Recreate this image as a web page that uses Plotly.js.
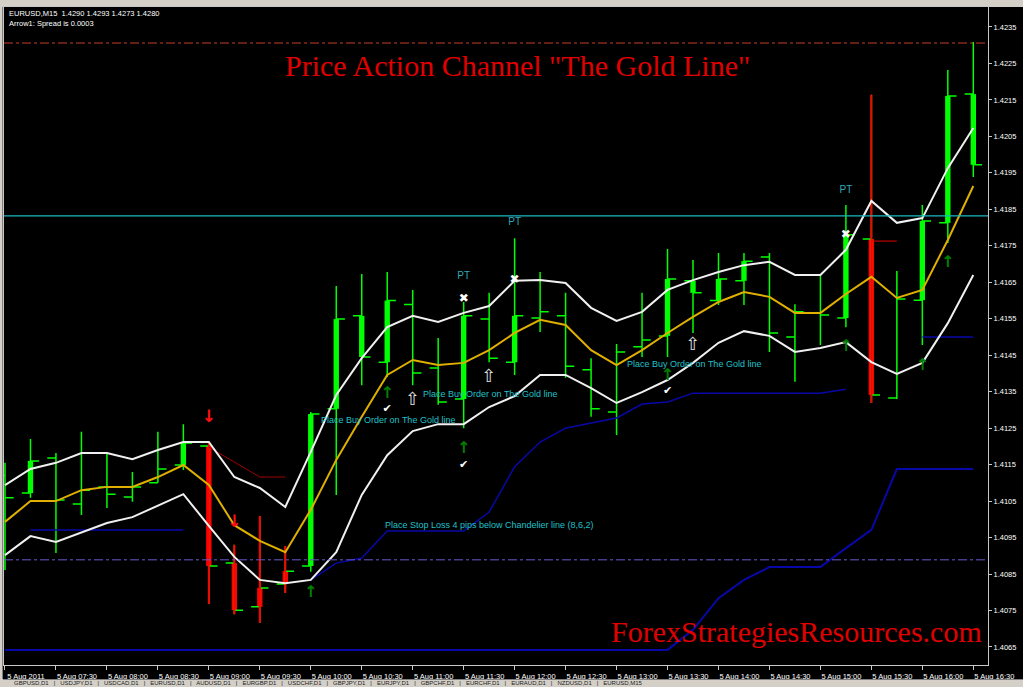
<!DOCTYPE html>
<html><head><meta charset="utf-8">
<script src="https://cdn.plot.ly/plotly-3.0.1.min.js"></script>
<style>html,body{margin:0;padding:0;background:#000;overflow:hidden}#chart{width:1023px;height:687px}</style>
</head><body><div id="chart"></div>
<script>
// ---- bars (EURUSD M15, 5 Aug 2011) ----
const times = ["2011-08-05 07:00","2011-08-05 07:15","2011-08-05 07:30","2011-08-05 07:45","2011-08-05 08:00","2011-08-05 08:15","2011-08-05 08:30","2011-08-05 08:45","2011-08-05 09:00","2011-08-05 09:15","2011-08-05 09:30","2011-08-05 09:45","2011-08-05 10:00","2011-08-05 10:15","2011-08-05 10:30","2011-08-05 10:45","2011-08-05 11:00","2011-08-05 11:15","2011-08-05 11:30","2011-08-05 11:45","2011-08-05 12:00","2011-08-05 12:15","2011-08-05 12:30","2011-08-05 12:45","2011-08-05 13:00","2011-08-05 13:15","2011-08-05 13:30","2011-08-05 13:45","2011-08-05 14:00","2011-08-05 14:15","2011-08-05 14:30","2011-08-05 14:45","2011-08-05 15:00","2011-08-05 15:15","2011-08-05 15:30","2011-08-05 15:45","2011-08-05 16:00","2011-08-05 16:15","2011-08-05 16:30"];
const open  = [1.41120,1.41072,1.41168,1.41042,1.41089,1.41061,1.41100,1.41149,1.41201,1.40880,1.40760,1.40823,1.40872,1.41303,1.41558,1.41431,1.41589,1.41415,1.41330,1.41549,1.41431,1.41552,1.41558,1.41410,1.41294,1.41473,1.41503,1.41654,1.41600,1.41654,1.41719,1.41500,1.41566,1.41552,1.41769,1.41333,1.41601,1.41813,1.42166];
const high  = [1.41155,1.41220,1.41182,1.41240,1.41179,1.41130,1.41240,1.41261,1.41209,1.40930,1.41009,1.40927,1.41294,1.41640,1.41673,1.41678,1.41629,1.41497,1.41596,1.41621,1.41771,1.41678,1.41621,1.41442,1.41481,1.41621,1.41741,1.41711,1.41730,1.41730,1.41730,1.41590,1.41670,1.41862,1.42164,1.41681,1.41862,1.42232,1.42309];
const low   = [1.40861,1.41059,1.40908,1.41012,1.41031,1.41048,1.41100,1.41135,1.40768,1.40740,1.40716,1.40798,1.40856,1.41067,1.41368,1.41390,1.41368,1.41314,1.41250,1.41431,1.41396,1.41514,1.41388,1.41281,1.41231,1.41445,1.41445,1.41511,1.41588,1.41588,1.41459,1.41377,1.41478,1.41527,1.41319,1.41330,1.41478,1.41758,1.41939];
const close = [1.41059,1.41160,1.41053,1.41080,1.41069,1.41089,1.41138,1.41209,1.40872,1.40751,1.40812,1.40858,1.41289,1.41549,1.41445,1.41600,1.41401,1.41322,1.41558,1.41442,1.41558,1.41569,1.41420,1.41303,1.41459,1.41492,1.41659,1.41621,1.41659,1.41708,1.41511,1.41569,1.41560,1.41780,1.41341,1.41604,1.41818,1.42161,1.41972];
const barColor = ["g","g","g","g","g","g","g","g","r","r","r","r","g","g","g","g","g","g","g","g","g","g","g","g","g","g","g","g","g","g","g","g","g","g","r","g","g","g","g"];
const hasBody  = [0,1,0,0,0,0,0,1,1,1,1,1,1,1,1,1,0,0,1,0,1,0,0,0,0,0,1,1,1,1,0,0,0,1,1,0,1,1,1];

// ---- price action channel ----
const upperBand = [1.41094,1.41138,1.41155,1.41182,1.41182,1.41165,1.41190,1.41212,1.41212,1.41116,1.41086,1.41034,1.41185,1.41341,1.41442,1.41527,1.41558,1.41541,1.41566,1.41585,1.41654,1.41656,1.41648,1.41580,1.41544,1.41569,1.41629,1.41656,1.41678,1.41697,1.41706,1.41670,1.41670,1.41739,1.41873,1.41813,1.41826,1.41963,1.42073];
const goldLine  = [1.40993,1.41050,1.41050,1.41080,1.41089,1.41089,1.41116,1.41149,1.41094,1.40984,1.40941,1.40910,1.41026,1.41163,1.41281,1.41396,1.41437,1.41423,1.41429,1.41464,1.41511,1.41547,1.41533,1.41464,1.41423,1.41464,1.41511,1.41555,1.41596,1.41623,1.41610,1.41566,1.41566,1.41618,1.41665,1.41607,1.41629,1.41766,1.41914];
const lowerBand = [1.40902,1.40954,1.40938,1.40965,1.40990,1.41006,1.41037,1.41069,1.40982,1.40897,1.40834,1.40825,1.40834,1.40910,1.41067,1.41176,1.41242,1.41261,1.41261,1.41308,1.41338,1.41396,1.41396,1.41360,1.41319,1.41349,1.41382,1.41429,1.41484,1.41516,1.41503,1.41459,1.41470,1.41486,1.41431,1.41399,1.41429,1.41538,1.41670];

// ---- chandelier / stop lines ----
const chandA_t = ["2011-08-05 07:15","2011-08-05 08:45"];
const chandA_v = [1.40971,1.40971];
const chandB_t = ["2011-08-05 10:00","2011-08-05 10:15","2011-08-05 10:30","2011-08-05 10:45","2011-08-05 11:00","2011-08-05 11:15","2011-08-05 11:30","2011-08-05 11:45","2011-08-05 12:00","2011-08-05 12:15","2011-08-05 12:30","2011-08-05 12:45","2011-08-05 13:00","2011-08-05 13:15","2011-08-05 13:30","2011-08-05 13:45","2011-08-05 14:00","2011-08-05 14:15","2011-08-05 14:30","2011-08-05 14:45","2011-08-05 15:00","2011-08-05 15:15"];
const chandB_v = [1.40834,1.40880,1.40894,1.40968,1.40968,1.40968,1.40968,1.41020,1.41144,1.41212,1.41250,1.41264,1.41278,1.41316,1.41322,1.41346,1.41346,1.41346,1.41346,1.41346,1.41346,1.41357];
const chandC_t = ["2011-08-05 16:00","2011-08-05 16:30"];
const chandC_v = [1.41500,1.41500];
const chandD_t = ["2011-08-05 07:00","2011-08-05 13:30","2011-08-05 13:45","2011-08-05 14:00","2011-08-05 14:15","2011-08-05 14:30","2011-08-05 14:45","2011-08-05 15:00","2011-08-05 15:15","2011-08-05 15:30","2011-08-05 15:45","2011-08-05 16:00","2011-08-05 16:15","2011-08-05 16:30"];
const chandD_v = [1.40642,1.40642,1.40697,1.40784,1.40834,1.40869,1.40869,1.40869,1.40921,1.40971,1.41138,1.41138,1.41138,1.41138];
const sellStop_t = ["2011-08-05 09:00","2011-08-05 09:15","2011-08-05 09:30","2011-08-05 09:45"];
const sellStop_v = [1.41198,1.41157,1.41116,1.41116];
const redStop_t = ["2011-08-05 15:30","2011-08-05 15:45"];
const redStop_v = [1.41763,1.41763];

// ---- horizontal levels ----
const cyanLevel = 1.41832;
const redDashLevel = 1.42306;
const purpleDashLevel = 1.40889;

// ---- signals ----
const upArrow_t = ["2011-08-05 10:00","2011-08-05 10:45","2011-08-05 11:30","2011-08-05 13:30","2011-08-05 15:15","2011-08-05 16:00","2011-08-05 16:15"];
const upArrow_v = [1.40798,1.41345,1.41192,1.41392,1.41473,1.41420,1.41703];
const downArrow_t = ["2011-08-05 09:00","2011-08-05 09:15"];
const downArrow_v = [1.41278,1.40990];
const check_t = ["2011-08-05 10:45","2011-08-05 11:30","2011-08-05 13:30"];
const check_v = [1.41302,1.41148,1.41352];
const hollow_t = ["2011-08-05 11:00","2011-08-05 11:45","2011-08-05 13:45"];
const hollow_v = [1.41327,1.41390,1.41478];
const cross_t = ["2011-08-05 11:30","2011-08-05 12:00","2011-08-05 15:15"];
const cross_v = [1.41604,1.41656,1.41780];
const pt_t = ["2011-08-05 11:30","2011-08-05 12:00","2011-08-05 15:15"];
const pt_v = [1.41667,1.41815,1.41903];

// ---- axis labels ----
const xTickVals = ["2011-08-05 07:00","2011-08-05 07:30","2011-08-05 08:00","2011-08-05 08:30","2011-08-05 09:00","2011-08-05 09:30","2011-08-05 10:00","2011-08-05 10:30","2011-08-05 11:00","2011-08-05 11:30","2011-08-05 12:00","2011-08-05 12:30","2011-08-05 13:00","2011-08-05 13:30","2011-08-05 14:00","2011-08-05 14:30","2011-08-05 15:00","2011-08-05 15:30","2011-08-05 16:00","2011-08-05 16:30"];
const xTickText = ["5 Aug 2011","5 Aug 07:30","5 Aug 08:00","5 Aug 08:30","5 Aug 09:00","5 Aug 09:30","5 Aug 10:00","5 Aug 10:30","5 Aug 11:00","5 Aug 11:30","5 Aug 12:00","5 Aug 12:30","5 Aug 13:00","5 Aug 13:30","5 Aug 14:00","5 Aug 14:30","5 Aug 15:00","5 Aug 15:30","5 Aug 16:00","5 Aug 16:30"];
const tabNames = ["GBPUSD,D1","USDJPY,D1","USDCAD,D1","EURUSD,D1","AUDUSD,D1","EURGBP,D1","USDCHF,D1","GBPJPY,D1","EURJPY,D1","GBPCHF,D1","EURCHF,D1","EURAUD,D1","NZDUSD,D1","EURUSD,M15"];

const GREEN = '#00ff00', RED = '#ff0000';
const SANS = 'Liberation Sans, Arial, sans-serif';
const SERIF = 'Liberation Serif, Times New Roman, serif';
const SYM = 'DejaVu Sans, sans-serif';

const traces = [];
// all bars, green with open/close ticks
traces.push({type:'ohlc', x: times, open, high, low, close, tickwidth: 0.34,
  increasing:{line:{color:GREEN, width:1.5}}, decreasing:{line:{color:GREEN, width:1.5}}, hoverinfo:'skip'});
// red high-low lines for red bars
const rIdx = barColor.map((c,i)=>c==='r'?i:-1).filter(i=>i>=0);
traces.push({type:'scatter', mode:'lines', x: rIdx.flatMap(i=>[times[i], times[i], null]),
  y: rIdx.flatMap(i=>[high[i], low[i], null]), line:{color:RED, width:2}, connectgaps:false, hoverinfo:'skip'});
// thick bodies
const bIdx = hasBody.map((b,i)=>b?i:-1).filter(i=>i>=0);
traces.push({type:'bar', x: bIdx.map(i=>times[i]), base: bIdx.map(i=>Math.min(open[i],close[i])),
  y: bIdx.map(i=>Math.abs(close[i]-open[i])), width: 190000,
  marker:{color: bIdx.map(i=>barColor[i]==='r'?RED:GREEN), line:{width:0}}, hoverinfo:'skip'});

function line(x, y, color, width, dash){ return {type:'scatter', mode:'lines', x, y, line:{color, width, dash: dash||'solid'}, hoverinfo:'skip'}; }
traces.push(line(chandD_t, chandD_v, '#0808a8', 2));
traces.push(line(chandA_t, chandA_v, '#0808a8', 1.5));
traces.push(line(chandB_t, chandB_v, '#0808a8', 1.5));
traces.push(line(chandC_t, chandC_v, '#0808a8', 1.5));
traces.push(line(sellStop_t, sellStop_v, '#a00000', 1));
traces.push(line(redStop_t, redStop_v, '#e00000', 1));
traces.push(line(times, upperBand, '#f0f0f0', 2));
traces.push(line(times, lowerBand, '#f0f0f0', 2));
traces.push(line(times, goldLine, '#e0b000', 2));

function txt(x, y, t, color, size, weight){ return {type:'scatter', mode:'text', x, y, text: x.map(()=>t), textposition:'middle center',
  textfont:{family: SYM, size, color, weight: weight||'normal'}, hoverinfo:'skip', cliponaxis:false}; }
traces.push(txt(upArrow_t, upArrow_v, '↑', '#008000', 16, 'bold'));
traces.push(txt(downArrow_t, downArrow_v, '↓', '#ff1010', 17, 'bold'));
traces.push(txt(check_t, check_v, '✔', '#ffffff', 11));
traces.push(txt(hollow_t, hollow_v, '⇧', '#e0e0e0', 18));
traces.push(txt(cross_t, cross_v, '✖', '#ffffff', 12));
traces.push({type:'scatter', mode:'text', x: pt_t, y: pt_v, text: pt_t.map(()=>'PT'), textposition:'middle center',
  textfont:{family:SANS, size:10, color:'#30a8b8'}, hoverinfo:'skip'});

const px = X => (X-4)/984, py = Y => (665-Y)/658;
const shapes = [
  {type:'line', xref:'paper', x0:0, x1:1, yref:'y', y0:cyanLevel, y1:cyanLevel, line:{color:'#18b8c0', width:1.2}},
  {type:'line', xref:'paper', x0:0, x1:1, yref:'y', y0:redDashLevel, y1:redDashLevel, line:{color:'#c83c28', width:1, dash:'dashdot'}},
  {type:'line', xref:'paper', x0:0, x1:1, yref:'y', y0:purpleDashLevel, y1:purpleDashLevel, line:{color:'#6a5acd', width:1, dash:'dashdot'}},
  {type:'rect', xref:'paper', yref:'paper', x0:px(0), x1:px(1023), y0:py(7), y1:py(0), fillcolor:'#d4d0c8', line:{width:0}, layer:'below'},
  {type:'rect', xref:'paper', yref:'paper', x0:px(0), x1:px(1023), y0:py(687), y1:py(679), fillcolor:'#d4d0c8', line:{width:0}},
  {type:'line', xref:'paper', yref:'paper', x0:px(0), x1:px(1023), y0:py(679.5), y1:py(679.5), line:{color:'#808080', width:1}},
  {type:'rect', xref:'paper', yref:'paper', x0:px(0), x1:px(3), y0:py(687), y1:py(0), fillcolor:'#d4d0c8', line:{width:0}},
  {type:'line', xref:'paper', yref:'paper', x0:px(2.5), x1:px(2.5), y0:py(679), y1:py(7), line:{color:'#808080', width:1}}
];

const annotations = [
  {xref:'paper', yref:'paper', x:px(517), y:py(65), text:'Price Action Channel "The Gold Line"', showarrow:false,
   font:{family:SERIF, size:30, color:'#e00000'}, xanchor:'center', yanchor:'middle'},
  {xref:'paper', yref:'paper', x:px(796), y:py(631), text:'ForexStrategiesResources.com', showarrow:false,
   font:{family:SERIF, size:30, color:'#e00000'}, xanchor:'center', yanchor:'middle'},
  {xref:'paper', yref:'paper', x:px(7), y:py(13), text:'EURUSD,M15  1.4290 1.4293 1.4273 1.4280', showarrow:false,
   font:{family:SANS, size:7.5, color:'#ffffff'}, xanchor:'left', yanchor:'middle'},
  {xref:'paper', yref:'paper', x:px(7), y:py(23), text:'Arrow1: Spread is 0.0003', showarrow:false,
   font:{family:SANS, size:7.5, color:'#ffffff'}, xanchor:'left', yanchor:'middle'},
  {x:'2011-08-05 10:05', y:1.41272, text:'Place Buy Order on The Gold line', showarrow:false, xanchor:'left', yanchor:'middle',
   font:{family:SANS, size:9, color:'#20c0c8'}},
  {x:'2011-08-05 11:05', y:1.41344, text:'Place Buy Order on The Gold line', showarrow:false, xanchor:'left', yanchor:'middle',
   font:{family:SANS, size:9, color:'#20c0c8'}},
  {x:'2011-08-05 13:05', y:1.41426, text:'Place Buy Order on The Gold line', showarrow:false, xanchor:'left', yanchor:'middle',
   font:{family:SANS, size:9, color:'#20c0c8'}},
  {x:'2011-08-05 10:42:30', y:1.40984, text:'Place Stop Loss 4 pips below Chandelier line (8,6,2)', showarrow:false, xanchor:'left', yanchor:'middle',
   font:{family:SANS, size:9, color:'#20c0c8'}},
  {xref:'paper', yref:'paper', x:px(12), y:py(683.3), text: tabNames.join('   |   '), showarrow:false, xanchor:'left', yanchor:'middle',
   font:{family:SANS, size:6, color:'#202020'}}
];

const axisFont = {family:SANS, size:7.5, color:'#ffffff'};
const layout = {
  width:1023, height:687, margin:{l:4, r:35, t:7, b:22, pad:0},
  paper_bgcolor:'#000', plot_bgcolor:'#000', showlegend:false, barmode:'overlay', hovermode:false,
  xaxis:{type:'date', range:['2011-08-05 06:59:25','2011-08-05 16:38:39'], rangeslider:{visible:false},
    showgrid:false, zeroline:false, showline:true, mirror:true, linecolor:'#c8c8c8', linewidth:1,
    ticks:'outside', ticklen:4, tickcolor:'#c8c8c8', tickmode:'array', tickvals:xTickVals, ticktext:xTickText,
    tickangle:0, ticklabelshift:21, tickfont:axisFont, fixedrange:true},
  yaxis:{side:'right', range:[1.406006, 1.424048], showgrid:false, zeroline:false, showline:true, mirror:true,
    linecolor:'#c8c8c8', linewidth:1, ticks:'outside', ticklen:3, tickcolor:'#c8c8c8',
    tickmode:'linear', tick0:1.4065, dtick:0.001, tickformat:'.4f', tickfont:axisFont, fixedrange:true},
  shapes, annotations
};
Plotly.newPlot('chart', traces, layout, {staticPlot:true, displayModeBar:false});
</script>
</body></html>
